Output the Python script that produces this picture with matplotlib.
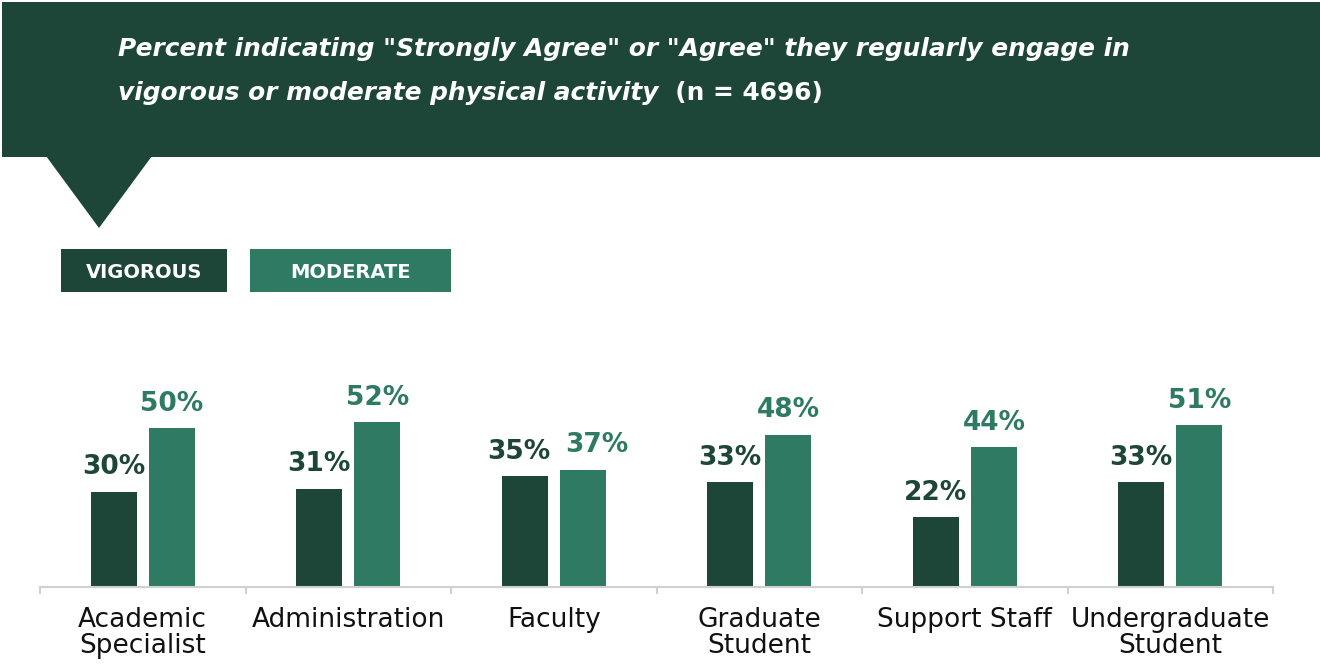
import matplotlib.pyplot as plt
from matplotlib.patches import Rectangle, Polygon

# Survey results by campus role
categories = ['Academic\nSpecialist', 'Administration', 'Faculty',
              'Graduate\nStudent', 'Support Staff', 'Undergraduate\nStudent']
vigorous = [30, 31, 35, 33, 22, 33]
moderate = [50, 52, 37, 48, 44, 51]

dark_green = '#1d4639'
mid_green = '#2f7a62'

plt.rcParams['font.family'] = 'DejaVu Sans'

fig = plt.figure(figsize=(13.2, 6.64), dpi=100)

# header banner, triangle pointer and legend swatches in pixel space
deco = fig.add_axes([0, 0, 1, 1])
deco.set_xlim(0, 1320)
deco.set_ylim(664, 0)
deco.axis('off')
deco.add_patch(Rectangle((2, 2), 1318, 155, color=dark_green, lw=0))
deco.add_patch(Polygon([(46, 156), (152, 156), (99, 228)], closed=True,
                       color=dark_green, lw=0))
deco.text(118, 56, 'Percent indicating "Strongly Agree" or "Agree" they regularly engage in',
          color='white', fontsize=17.9, fontweight='bold', style='italic', va='baseline')
t2 = deco.text(118, 100, 'vigorous or moderate physical activity',
               color='white', fontsize=17.9, fontweight='bold', style='italic', va='baseline')
deco.annotate('  (n = 4696)', xy=(1, 0), xycoords=t2, color='white',
              fontsize=17.9, fontweight='bold', va='bottom')

deco.add_patch(Rectangle((61, 249), 166, 43, color=dark_green, lw=0))
deco.add_patch(Rectangle((250, 249), 201, 43, color=mid_green, lw=0))
deco.text(144, 272, 'VIGOROUS', color='white', fontsize=14, fontweight='bold',
          ha='center', va='center')
deco.text(350.5, 272, 'MODERATE', color='white', fontsize=14, fontweight='bold',
          ha='center', va='center')

# bar chart
ymax = 80
px_per_unit = 3.165
base_y = 586.7
ax_h = ymax * px_per_unit
ax = fig.add_axes([40 / 1320, (664 - base_y) / 664, 1233 / 1320, ax_h / 664])
ax.set_xlim(-0.5, len(categories) - 0.5)
ax.set_ylim(0, ymax)

x = list(range(len(categories)))
w = 0.224
off = 0.142
ax.bar([i - off for i in x], vigorous, width=w, color=dark_green)
ax.bar([i + off for i in x], moderate, width=w, color=mid_green)

# nudge the Faculty labels apart so they don't collide (points)
nudge_v = {2: -4.5}
nudge_m = {2: 10}
for i in x:
    ax.annotate(f'{vigorous[i]}%', xy=(i - off, vigorous[i]),
                xytext=(nudge_v.get(i, 0), 12.5),
                textcoords='offset points', ha='center', va='baseline',
                fontsize=19, fontweight='bold', color=dark_green)
    ax.annotate(f'{moderate[i]}%', xy=(i + off, moderate[i]),
                xytext=(nudge_m.get(i, 0), 12.5),
                textcoords='offset points', ha='center', va='baseline',
                fontsize=19, fontweight='bold', color=mid_green)

for s in ['top', 'right', 'left']:
    ax.spines[s].set_visible(False)
ax.spines['bottom'].set_color('#d0d0d0')
ax.spines['bottom'].set_linewidth(1.5)
ax.set_yticks([])

# category boundaries marked with small ticks
ax.set_xticks([i - 0.5 for i in range(len(categories) + 1)])
ax.set_xticklabels([])
ax.tick_params(axis='x', length=5, width=1.5, color='#d0d0d0')
for i, c in enumerate(categories):
    ax.text(i, -6.3, c, ha='center', va='top', fontsize=19, color='#111111',
            linespacing=1.0)

fig.savefig('out.png', dpi=100)
